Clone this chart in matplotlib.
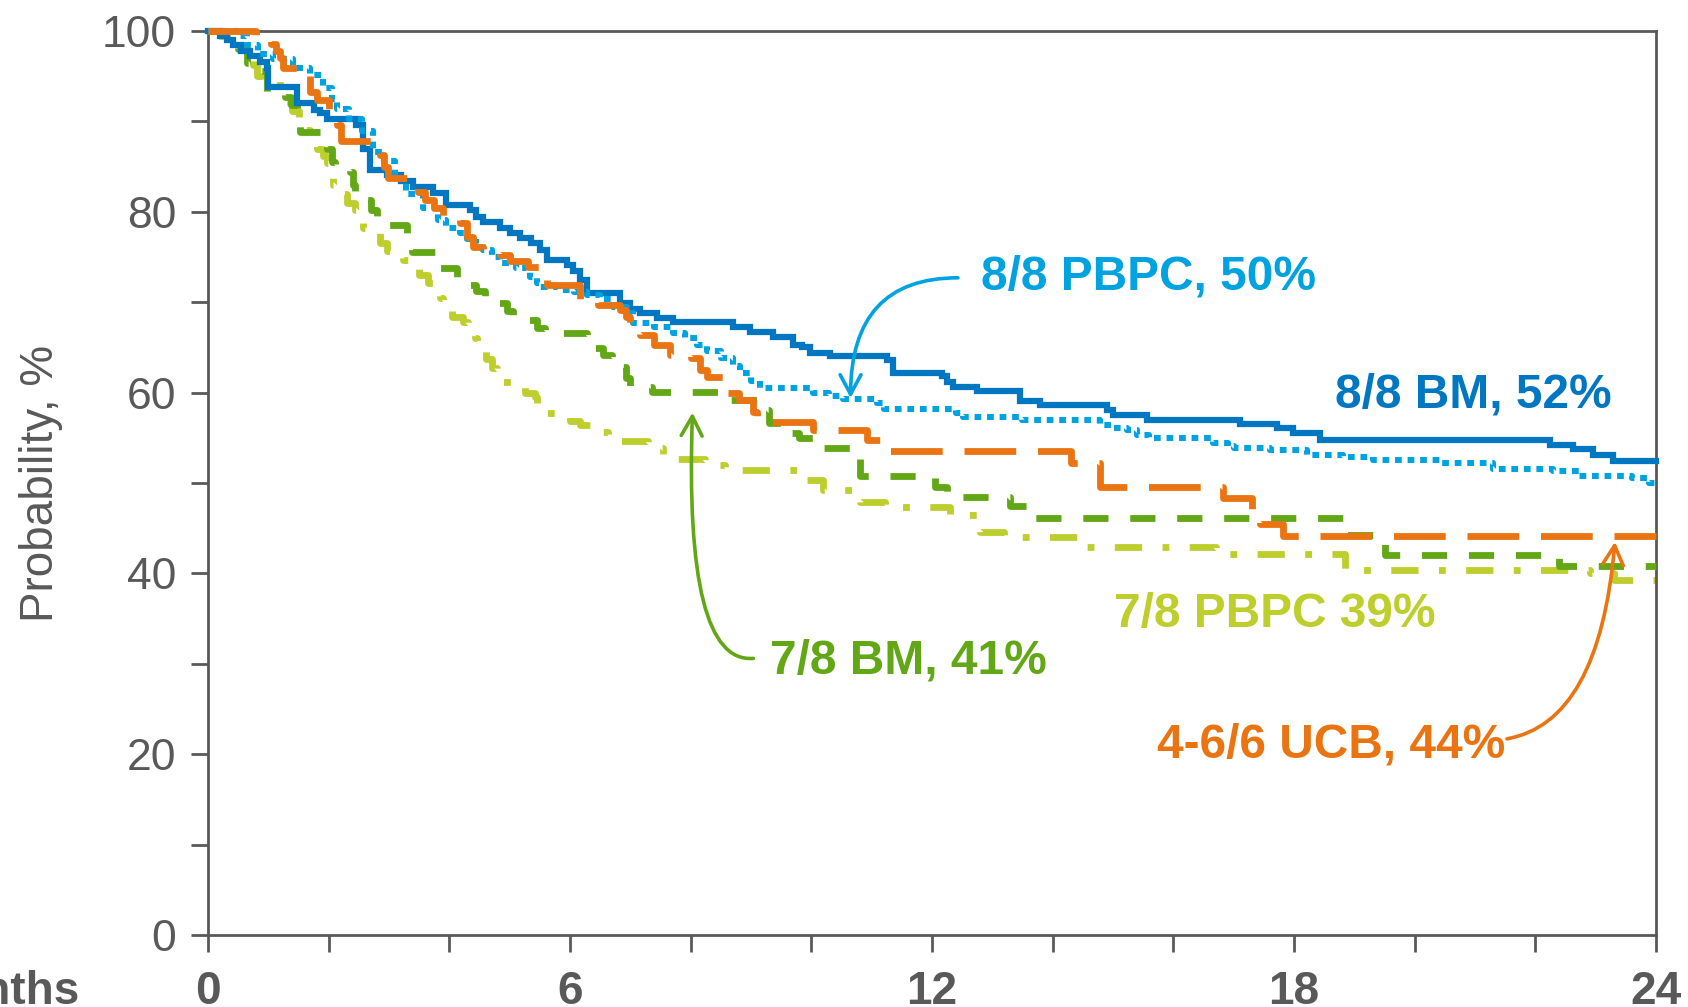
import matplotlib
matplotlib.use("Agg")
import matplotlib.pyplot as plt

plt.rcParams["font.family"] = ["Liberation Sans", "DejaVu Sans"]

# Kaplan-Meier style survival estimates: (months, probability %)
bm_88 = [(0, 100), (0.2, 99.4), (0.31, 99.0), (0.42, 98.5), (0.55, 97.8), (0.7, 97.2),
         (0.86, 96.6), (0.97, 95.9), (1.0, 93.8), (1.47, 92.0), (1.75, 91.3), (1.86, 90.9),
         (1.97, 90.3), (2.46, 89.6), (2.57, 87.0), (2.69, 84.6), (2.96, 84.1), (3.2, 83.4),
         (3.4, 82.7), (3.73, 82.1), (3.95, 80.8), (4.34, 80.2), (4.45, 79.4), (4.56, 78.9),
         (4.84, 78.2), (5.0, 77.6), (5.17, 77.1), (5.35, 76.5), (5.5, 75.8), (5.62, 74.7),
         (5.95, 74.1), (6.05, 73.4), (6.17, 72.5), (6.28, 71.0), (6.83, 69.9), (7.0, 69.3),
         (7.16, 68.8), (7.45, 68.3), (7.71, 67.8), (8.7, 67.3), (8.98, 66.7), (9.37, 66.2),
         (9.7, 65.3), (9.85, 65.0), (9.98, 64.4), (10.31, 64.0), (11.25, 63.6), (11.36, 62.2),
         (12.17, 61.8), (12.25, 61.2), (12.35, 60.6), (12.74, 60.2), (13.46, 59.1), (13.79, 58.6),
         (14.9, 58.1), (15.0, 57.5), (15.56, 57.0), (17.1, 56.5), (17.72, 56.1), (17.99, 55.5),
         (18.43, 54.8), (22.24, 54.2), (22.63, 53.8), (22.95, 53.1), (23.29, 52.4), (24, 52.4)]

pbpc_88 = [(0, 100), (0.5, 99.4), (0.65, 98.5), (0.83, 97.5), (1.08, 96.9), (1.41, 95.9),
           (1.69, 95.1), (1.9, 93.7), (2.05, 92.5), (2.13, 91.4), (2.33, 90.3), (2.55, 88.9),
           (2.73, 86.6), (2.92, 85.6), (3.1, 83.6), (3.29, 82.0), (3.57, 80.4), (3.82, 79.1),
           (3.95, 78.2), (4.18, 77.7), (4.29, 77.0), (4.45, 76.4), (4.56, 75.8), (4.7, 75.0),
           (4.84, 74.3), (5.1, 73.8), (5.28, 73.5), (5.34, 72.8), (5.45, 72.1), (5.5, 71.7),
           (5.8, 71.4), (6.06, 71.1), (6.28, 70.8), (6.5, 70.3), (6.72, 69.5), (6.94, 68.8),
           (7.05, 67.7), (7.4, 67.3), (7.71, 66.6), (7.9, 66.0), (8.1, 65.3), (8.27, 64.6),
           (8.5, 63.8), (8.7, 62.9), (8.82, 62.2), (9.0, 61.3), (9.15, 60.5), (10.03, 60.0),
           (10.3, 59.6), (10.53, 59.3), (11.09, 58.8), (11.2, 58.2), (12.4, 57.7), (12.52, 57.3),
           (13.5, 57.0), (14.78, 56.4), (15.0, 56.1), (15.23, 55.9), (15.4, 55.3), (15.6, 55.0),
           (16.66, 54.4), (16.9, 54.1), (17.0, 53.9), (17.6, 53.7), (18.22, 53.1), (18.81, 52.9),
           (19.31, 52.5), (20.45, 52.2), (21.3, 51.6), (22.3, 51.3), (22.72, 50.8), (23.6, 50.6),
           (23.88, 50.0), (24, 50.0)]

ucb_46 = [(0, 100), (0.8, 99.3), (1.05, 98.6), (1.12, 97.8), (1.2, 97.0), (1.25, 95.9),
          (1.69, 93.3), (1.8, 92.4), (2.0, 91.4), (2.13, 89.6), (2.2, 87.8), (2.85, 86.3),
          (2.92, 85.0), (2.98, 83.7), (3.48, 82.2), (3.6, 81.3), (3.75, 80.4), (3.9, 79.5),
          (4.18, 78.8), (4.29, 77.2), (4.39, 76.1), (4.56, 75.5), (4.84, 75.2), (5.0, 74.6),
          (5.3, 73.9), (5.62, 71.9), (6.17, 70.4), (6.46, 69.7), (6.83, 69.1), (6.92, 68.4),
          (7.0, 67.7), (7.16, 66.4), (7.4, 65.3), (7.66, 64.2), (8.0, 63.8), (8.15, 62.5),
          (8.27, 61.7), (8.62, 60.0), (8.8, 59.2), (9.03, 57.8), (9.1, 56.8), (10.03, 55.9),
          (10.92, 54.8), (11.2, 53.5), (14.3, 52.2), (14.78, 49.6), (16.83, 48.3), (17.3, 47.0),
          (17.44, 45.5), (17.82, 44.1), (24, 44.1)]

bm_78 = [(0, 100), (0.3, 99.0), (0.5, 98.0), (0.65, 96.5), (0.8, 95.6), (0.97, 93.3),
         (1.28, 92.7), (1.38, 91.8), (1.47, 90.9), (1.52, 88.8), (1.97, 87.0), (2.05, 85.5),
         (2.1, 84.8), (2.35, 84.4), (2.4, 83.0), (2.44, 81.5), (2.63, 81.3), (2.7, 80.2),
         (2.8, 79.1), (2.98, 78.5), (3.3, 77.1), (3.38, 75.5), (3.81, 73.8), (4.13, 72.3),
         (4.31, 71.9), (4.45, 71.2), (4.59, 70.5), (4.79, 69.9), (4.95, 69.0), (5.06, 68.4),
         (5.3, 68.0), (5.45, 67.2), (5.59, 66.6), (6.28, 66.2), (6.38, 64.9), (6.55, 64.2),
         (6.7, 63.6), (6.83, 62.8), (6.92, 61.6), (7.0, 60.6), (7.36, 60.1), (8.62, 59.2),
         (9.2, 58.1), (9.3, 56.6), (9.61, 55.5), (9.8, 55.0), (10.18, 53.9), (10.8, 50.8),
         (12.05, 49.6), (12.25, 48.5), (13.3, 47.5), (13.6, 46.1), (18.85, 44.2), (19.5, 42.0),
         (22.4, 40.8), (24, 40.8)]

pbpc_78 = [(0, 100), (0.2, 99.5), (0.42, 98.7), (0.53, 98.0), (0.66, 97.2), (0.75, 96.2),
           (0.82, 95.0), (0.89, 94.0), (1.28, 92.1), (1.4, 91.1), (1.5, 90.2), (1.52, 89.0),
           (1.69, 88.3), (1.8, 87.0), (1.9, 86.2), (1.97, 85.4), (1.99, 83.8), (2.08, 83.0),
           (2.16, 82.0), (2.3, 81.0), (2.44, 80.2), (2.47, 78.8), (2.57, 78.2), (2.72, 77.6),
           (2.85, 76.6), (2.97, 75.7), (3.15, 75.2), (3.23, 74.7), (3.35, 73.9), (3.5, 73.0),
           (3.65, 72.1), (3.76, 71.0), (3.85, 70.5), (3.9, 69.1), (4.05, 68.4), (4.23, 67.8),
           (4.31, 66.6), (4.43, 66.0), (4.46, 64.7), (4.6, 63.7), (4.71, 62.7), (4.79, 61.7),
           (4.89, 61.2), (5.09, 60.6), (5.25, 60.0), (5.42, 59.5), (5.45, 58.1), (5.56, 57.7),
           (5.78, 57.5), (6.0, 56.9), (6.17, 56.4), (6.36, 55.6), (6.63, 54.6), (7.29, 54.2),
           (7.38, 53.9), (7.54, 52.7), (8.24, 52.0), (8.57, 51.4), (9.9, 50.3), (10.2, 49.2),
           (10.8, 47.9), (11.22, 47.3), (12.3, 46.5), (12.8, 44.6), (13.2, 44.0), (14.5, 42.9),
           (16.7, 42.2), (18.85, 40.4), (22.9, 40.0), (23.3, 39.3), (24, 39.3)]

x_major = [0, 6, 12, 18, 24]
x_minor = list(range(0, 25, 2))
y_major = [0, 20, 40, 60, 80, 100]
y_minor = list(range(0, 101, 10))

GRAY = "#595959"
C_BM88 = "#0077C0"
C_PB88 = "#00A2DF"
C_UCB = "#E97411"
C_BM78 = "#62A715"
C_PB78 = "#BDCE2D"

fig = plt.figure(figsize=(16.88, 10.07), dpi=100)
ax = fig.add_axes([208 / 1688, 1 - 935 / 1007, 1448 / 1688, 904 / 1007])

# drawing order: lightest curves underneath
curves = [
    (pbpc_78, C_PB78, 4.9, (0, (4.0, 3.0, 1.0, 3.0)), 2),
    (bm_78, C_BM78, 4.9, (0, (3.7, 3.2)), 3),
    (bm_88, C_BM88, 4.5, "-", 4),
    (pbpc_88, C_PB88, 4.4, (0, (1.1, 0.95)), 5),
    (ucb_46, C_UCB, 4.9, (0, (7.6, 3.2)), 6),
]
for data, color, lw, ls, z in curves:
    t, p = zip(*data)
    ax.step(t, p, where="post", color=color, lw=lw, linestyle=ls,
            zorder=z, clip_on=False, solid_joinstyle="miter")

ax.set_xlim(0, 24)
ax.set_ylim(0, 100)
ax.set_xticks(x_major)
ax.set_xticks(x_minor, minor=True)
ax.set_yticks(y_major)
ax.set_yticks(y_minor, minor=True)
ax.tick_params(which="both", direction="out", length=12, width=2, color=GRAY)
ax.tick_params(axis="y", which="major", labelsize=32, labelcolor=GRAY, pad=11)
ax.tick_params(axis="x", which="major", labelsize=33, labelcolor=GRAY, pad=13)
for lab in ax.get_xticklabels():
    lab.set_fontweight("bold")
for s in ax.spines.values():
    s.set_color(GRAY)
    s.set_linewidth(2)

ax.set_ylabel("Probability, %", fontsize=33, color=GRAY)
ax.yaxis.set_label_coords(-0.1, 0.5)

fig.text(80 / 1688, (1007 - 935 - 16.7 - 18) / 1007, "Months", ha="right", va="top",
         fontsize=33, fontweight="bold", color=GRAY)

# curve labels
labels = [
    ("8/8 PBPC, 50%", 12.82, 71.4, C_PB88),
    ("8/8 BM, 52%", 18.68, 58.3, C_BM88),
    ("7/8 PBPC 39%", 15.02, 34.1, C_PB78),
    ("7/8 BM, 41%", 9.31, 28.9, C_BM78),
    ("4-6/6 UCB, 44%", 15.73, 19.6, C_UCB),
]
for txt, x, y, c in labels:
    ax.text(x, y, txt, color=c, fontsize=34.5, fontweight="bold",
            ha="left", va="baseline", zorder=10)

arrows = [
    ((12.43, 72.7), (10.65, 59.4), C_PB88, "angle3,angleA=180,angleB=90"),
    ((9.04, 30.6), (8.03, 57.8), C_BM78, "angle3,angleA=185,angleB=88"),
    ((21.53, 21.7), (23.32, 43.5), C_UCB, "angle3,angleA=10,angleB=85"),
]
for start, tip, c, cs in arrows:
    ax.annotate("", xy=tip, xytext=start, zorder=10,
                arrowprops=dict(arrowstyle="->,head_length=1.4,head_width=0.75",
                                mutation_scale=10, lw=2.6, color=c,
                                connectionstyle=cs, shrinkA=0, shrinkB=0))

fig.savefig("out.png", dpi=100)
